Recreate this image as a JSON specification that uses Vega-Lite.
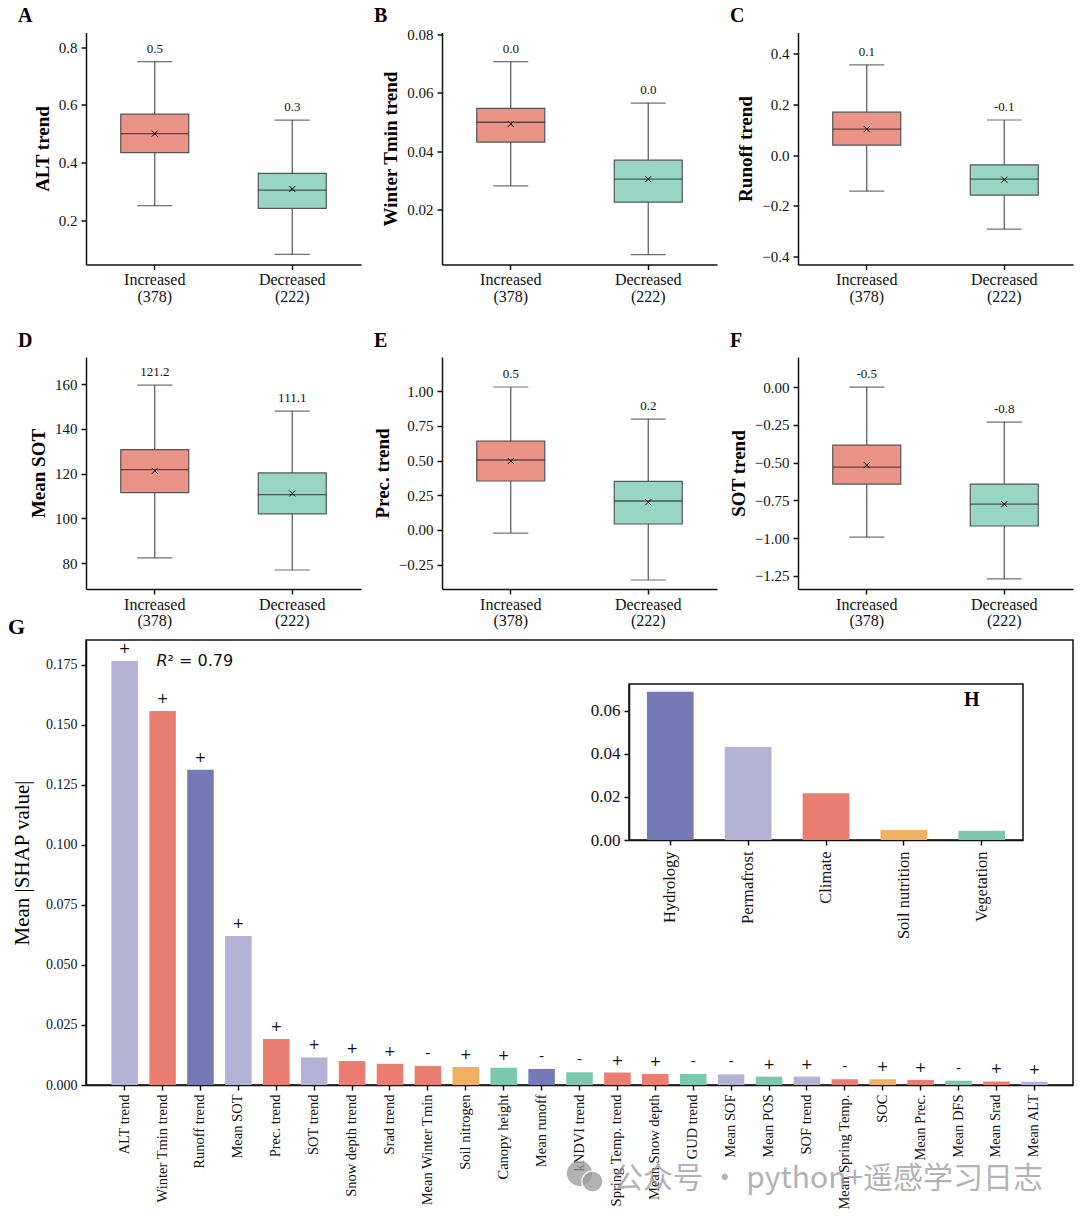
{
  "$schema": "https://vega.github.io/schema/vega-lite/v6.json",
  "background": "white",
  "padding": {"left": 7, "top": 5.5, "right": 0, "bottom": 0},
  "config": {
    "font": "Liberation Serif",
    "view": {"stroke": null},
    "title": {"font": "Liberation Serif", "fontSize": 20, "fontWeight": "bold", "anchor": "start", "frame": "group", "color": "#000", "offset": 6, "dx": -68},
    "axis": {
      "labelFont": "Liberation Serif", "labelFontSize": 15, "labelColor": "#111",
      "titleFont": "Liberation Serif", "titleFontSize": 19, "titleFontWeight": "bold", "titleColor": "#000", "titlePadding": 6,
      "domainColor": "#111", "domainWidth": 1.5, "tickColor": "#111", "tickWidth": 1.5, "tickSize": 5, "labelPadding": 4, "grid": false
    },
    "axisX": {"labelFontSize": 16, "labelAngle": 0, "labelLineHeight": 16.5, "labelPadding": 2, "labelExpr": "split(datum.label, ' ')", "title": null}
  },
  "datasets": {
    "boxes": [
      {"panel": "A", "group": "Increased (378)", "lo": 0.25, "q1": 0.434, "median": 0.5, "q3": 0.568, "hi": 0.75, "mean": 0.5, "label": "0.5"},
      {"panel": "A", "group": "Decreased (222)", "lo": 0.081, "q1": 0.241, "median": 0.304, "q3": 0.362, "hi": 0.547, "mean": 0.308, "label": "0.3"},
      {"panel": "B", "group": "Increased (378)", "lo": 0.0281, "q1": 0.0431, "median": 0.0499, "q3": 0.0547, "hi": 0.0707, "mean": 0.0493, "label": "0.0"},
      {"panel": "B", "group": "Decreased (222)", "lo": 0.0045, "q1": 0.0225, "median": 0.0304, "q3": 0.0369, "hi": 0.0565, "mean": 0.0304, "label": "0.0"},
      {"panel": "C", "group": "Increased (378)", "lo": -0.142, "q1": 0.039, "median": 0.102, "q3": 0.169, "hi": 0.355, "mean": 0.102, "label": "0.1"},
      {"panel": "C", "group": "Decreased (222)", "lo": -0.292, "q1": -0.158, "median": -0.095, "q3": -0.039, "hi": 0.138, "mean": -0.097, "label": "-0.1"},
      {"panel": "D", "group": "Increased (378)", "lo": 82.3, "q1": 111.5, "median": 121.8, "q3": 130.7, "hi": 159.5, "mean": 121.2, "label": "121.2"},
      {"panel": "D", "group": "Decreased (222)", "lo": 76.9, "q1": 102, "median": 110.6, "q3": 120.3, "hi": 147.9, "mean": 111.1, "label": "111.1"},
      {"panel": "E", "group": "Increased (378)", "lo": -0.022, "q1": 0.353, "median": 0.504, "q3": 0.64, "hi": 1.03, "mean": 0.497, "label": "0.5"},
      {"panel": "E", "group": "Decreased (222)", "lo": -0.36, "q1": 0.043, "median": 0.209, "q3": 0.35, "hi": 0.799, "mean": 0.2, "label": "0.2"},
      {"panel": "F", "group": "Increased (378)", "lo": -0.993, "q1": -0.642, "median": -0.53, "q3": -0.384, "hi": 0, "mean": -0.517, "label": "-0.5"},
      {"panel": "F", "group": "Decreased (222)", "lo": -1.27, "q1": -0.92, "median": -0.775, "q3": -0.642, "hi": -0.232, "mean": -0.775, "label": "-0.8"}
    ],
    "shap": [
      {"name": "ALT trend", "value": 0.1767, "cat": "Permafrost", "sign": "+"},
      {"name": "Winter Tmin trend", "value": 0.1558, "cat": "Climate", "sign": "+"},
      {"name": "Runoff trend", "value": 0.1313, "cat": "Hydrology", "sign": "+"},
      {"name": "Mean SOT", "value": 0.0621, "cat": "Permafrost", "sign": "+"},
      {"name": "Prec. trend", "value": 0.0192, "cat": "Climate", "sign": "+"},
      {"name": "SOT trend", "value": 0.0115, "cat": "Permafrost", "sign": "+"},
      {"name": "Snow depth trend", "value": 0.01, "cat": "Climate", "sign": "+"},
      {"name": "Srad trend", "value": 0.0088, "cat": "Climate", "sign": "+"},
      {"name": "Mean Winter Tmin", "value": 0.0079, "cat": "Climate", "sign": "-"},
      {"name": "Soil nitrogen", "value": 0.0075, "cat": "Soil nutrition", "sign": "+"},
      {"name": "Canopy height", "value": 0.0072, "cat": "Vegetation", "sign": "+"},
      {"name": "Mean runoff", "value": 0.0067, "cat": "Hydrology", "sign": "-"},
      {"name": "kNDVI trend", "value": 0.0053, "cat": "Vegetation", "sign": "-"},
      {"name": "Spring Temp. trend", "value": 0.0052, "cat": "Climate", "sign": "+"},
      {"name": "Mean Snow depth", "value": 0.0046, "cat": "Climate", "sign": "+"},
      {"name": "GUD trend", "value": 0.0046, "cat": "Vegetation", "sign": "-"},
      {"name": "Mean SOF", "value": 0.0044, "cat": "Permafrost", "sign": "-"},
      {"name": "Mean POS", "value": 0.0035, "cat": "Vegetation", "sign": "+"},
      {"name": "SOF trend", "value": 0.0035, "cat": "Permafrost", "sign": "+"},
      {"name": "Mean Spring Temp.", "value": 0.0024, "cat": "Climate", "sign": "-"},
      {"name": "SOC", "value": 0.0024, "cat": "Soil nutrition", "sign": "+"},
      {"name": "Mean Prec.", "value": 0.0021, "cat": "Climate", "sign": "+"},
      {"name": "Mean DFS", "value": 0.0018, "cat": "Vegetation", "sign": "-"},
      {"name": "Mean Srad", "value": 0.0015, "cat": "Climate", "sign": "+"},
      {"name": "Mean ALT", "value": 0.0014, "cat": "Permafrost", "sign": "+"}
    ],
    "groups": [
      {"cat": "Hydrology", "value": 0.0688},
      {"cat": "Permafrost", "value": 0.0432},
      {"cat": "Climate", "value": 0.0217},
      {"cat": "Soil nutrition", "value": 0.0046},
      {"cat": "Vegetation", "value": 0.0043}
    ],
    "one": [{"n": 1}]
  },
  "vconcat": [
    {
      "vconcat": [
        {
          "hconcat": [
            {
              "title": {"text": "A", "offset": 7}, "width": 275, "height": 232,
              "data": {"name": "boxes"},
              "transform": [{"filter": "datum.panel == 'A'"}],
              "encoding": {"x": {"field": "group", "type": "nominal", "sort": null, "scale": {"type": "band", "paddingInner": 0, "paddingOuter": 0}}},
              "layer": [
                {"mark": {"type": "rule", "color": "#555", "strokeWidth": 1.2}, "encoding": {
                  "y": {"field": "lo", "type": "quantitative", "title": "ALT trend", "scale": {"domain": [0.046, 0.851], "nice": false, "zero": false}, "axis": {"values": [0.2, 0.4, 0.6, 0.8], "format": ".1f"}},
                  "y2": {"field": "hi"}}},
                {"mark": {"type": "tick", "size": 35, "thickness": 1.2, "color": "#333"}, "encoding": {"y": {"field": "lo", "type": "quantitative"}}},
                {"mark": {"type": "tick", "size": 35, "thickness": 1.2, "color": "#333"}, "encoding": {"y": {"field": "hi", "type": "quantitative"}}},
                {"mark": {"type": "bar", "size": 68, "stroke": "#555", "strokeWidth": 1.2}, "encoding": {
                  "y": {"field": "q1", "type": "quantitative"}, "y2": {"field": "q3"},
                  "color": {"field": "group", "type": "nominal", "legend": null, "scale": {"domain": ["Increased (378)", "Decreased (222)"], "range": ["#EA9488", "#98D5C3"]}}}},
                {"mark": {"type": "tick", "size": 68, "thickness": 1.3, "color": "#222"}, "encoding": {"y": {"field": "median", "type": "quantitative"}}},
                {"mark": {"type": "point", "shape": "M-1,-1L1,1M-1,1L1,-1", "size": 36, "stroke": "#000", "strokeWidth": 1, "opacity": 1}, "encoding": {"y": {"field": "mean", "type": "quantitative"}}},
                {"mark": {"type": "text", "fontSize": 13, "dy": -13, "color": "#111"}, "encoding": {"y": {"field": "hi", "type": "quantitative"}, "text": {"field": "label"}}}
              ]
            },
            {
              "title": {"text": "B", "offset": 2}, "width": 275, "height": 232,
              "data": {"name": "boxes"},
              "transform": [{"filter": "datum.panel == 'B'"}],
              "encoding": {"x": {"field": "group", "type": "nominal", "sort": null, "scale": {"type": "band", "paddingInner": 0, "paddingOuter": 0}}},
              "layer": [
                {"mark": {"type": "rule", "color": "#555", "strokeWidth": 1.2}, "encoding": {
                  "y": {"field": "lo", "type": "quantitative", "title": "Winter Tmin trend", "scale": {"domain": [0.0011, 0.0807], "nice": false, "zero": false}, "axis": {"values": [0.02, 0.04, 0.06, 0.08], "format": ".2f"}},
                  "y2": {"field": "hi"}}},
                {"mark": {"type": "tick", "size": 35, "thickness": 1.2, "color": "#333"}, "encoding": {"y": {"field": "lo", "type": "quantitative"}}},
                {"mark": {"type": "tick", "size": 35, "thickness": 1.2, "color": "#333"}, "encoding": {"y": {"field": "hi", "type": "quantitative"}}},
                {"mark": {"type": "bar", "size": 68, "stroke": "#555", "strokeWidth": 1.2}, "encoding": {
                  "y": {"field": "q1", "type": "quantitative"}, "y2": {"field": "q3"},
                  "color": {"field": "group", "type": "nominal", "legend": null, "scale": {"domain": ["Increased (378)", "Decreased (222)"], "range": ["#EA9488", "#98D5C3"]}}}},
                {"mark": {"type": "tick", "size": 68, "thickness": 1.3, "color": "#222"}, "encoding": {"y": {"field": "median", "type": "quantitative"}}},
                {"mark": {"type": "point", "shape": "M-1,-1L1,1M-1,1L1,-1", "size": 36, "stroke": "#000", "strokeWidth": 1, "opacity": 1}, "encoding": {"y": {"field": "mean", "type": "quantitative"}}},
                {"mark": {"type": "text", "fontSize": 13, "dy": -13, "color": "#111"}, "encoding": {"y": {"field": "hi", "type": "quantitative"}, "text": {"field": "label"}}}
              ]
            },
            {
              "title": {"text": "C", "offset": 7}, "width": 275, "height": 232,
              "data": {"name": "boxes"},
              "transform": [{"filter": "datum.panel == 'C'"}],
              "encoding": {"x": {"field": "group", "type": "nominal", "sort": null, "scale": {"type": "band", "paddingInner": 0, "paddingOuter": 0}}},
              "layer": [
                {"mark": {"type": "rule", "color": "#555", "strokeWidth": 1.2}, "encoding": {
                  "y": {"field": "lo", "type": "quantitative", "title": "Runoff trend", "scale": {"domain": [-0.4315, 0.483], "nice": false, "zero": false}, "axis": {"values": [-0.4, -0.2, 0, 0.2, 0.4], "format": ".1f"}},
                  "y2": {"field": "hi"}}},
                {"mark": {"type": "tick", "size": 35, "thickness": 1.2, "color": "#333"}, "encoding": {"y": {"field": "lo", "type": "quantitative"}}},
                {"mark": {"type": "tick", "size": 35, "thickness": 1.2, "color": "#333"}, "encoding": {"y": {"field": "hi", "type": "quantitative"}}},
                {"mark": {"type": "bar", "size": 68, "stroke": "#555", "strokeWidth": 1.2}, "encoding": {
                  "y": {"field": "q1", "type": "quantitative"}, "y2": {"field": "q3"},
                  "color": {"field": "group", "type": "nominal", "legend": null, "scale": {"domain": ["Increased (378)", "Decreased (222)"], "range": ["#EA9488", "#98D5C3"]}}}},
                {"mark": {"type": "tick", "size": 68, "thickness": 1.3, "color": "#222"}, "encoding": {"y": {"field": "median", "type": "quantitative"}}},
                {"mark": {"type": "point", "shape": "M-1,-1L1,1M-1,1L1,-1", "size": 36, "stroke": "#000", "strokeWidth": 1, "opacity": 1}, "encoding": {"y": {"field": "mean", "type": "quantitative"}}},
                {"mark": {"type": "text", "fontSize": 13, "dy": -13, "color": "#111"}, "encoding": {"y": {"field": "hi", "type": "quantitative"}, "text": {"field": "label"}}}
              ]
            }
          ],
          "spacing": 81, "bounds": "flush"
        },
        {
          "hconcat": [
            {
              "title": "D", "width": 275, "height": 232,
              "data": {"name": "boxes"},
              "transform": [{"filter": "datum.panel == 'D'"}],
              "encoding": {"x": {"field": "group", "type": "nominal", "sort": null, "scale": {"type": "band", "paddingInner": 0, "paddingOuter": 0}}},
              "layer": [
                {"mark": {"type": "rule", "color": "#555", "strokeWidth": 1.2}, "encoding": {
                  "y": {"field": "lo", "type": "quantitative", "title": "Mean SOT", "scale": {"domain": [68.4, 172.1], "nice": false, "zero": false}, "axis": {"values": [80, 100, 120, 140, 160], "format": "d"}},
                  "y2": {"field": "hi"}}},
                {"mark": {"type": "tick", "size": 35, "thickness": 1.2, "color": "#333"}, "encoding": {"y": {"field": "lo", "type": "quantitative"}}},
                {"mark": {"type": "tick", "size": 35, "thickness": 1.2, "color": "#333"}, "encoding": {"y": {"field": "hi", "type": "quantitative"}}},
                {"mark": {"type": "bar", "size": 68, "stroke": "#555", "strokeWidth": 1.2}, "encoding": {
                  "y": {"field": "q1", "type": "quantitative"}, "y2": {"field": "q3"},
                  "color": {"field": "group", "type": "nominal", "legend": null, "scale": {"domain": ["Increased (378)", "Decreased (222)"], "range": ["#EA9488", "#98D5C3"]}}}},
                {"mark": {"type": "tick", "size": 68, "thickness": 1.3, "color": "#222"}, "encoding": {"y": {"field": "median", "type": "quantitative"}}},
                {"mark": {"type": "point", "shape": "M-1,-1L1,1M-1,1L1,-1", "size": 36, "stroke": "#000", "strokeWidth": 1, "opacity": 1}, "encoding": {"y": {"field": "mean", "type": "quantitative"}}},
                {"mark": {"type": "text", "fontSize": 13, "dy": -13, "color": "#111"}, "encoding": {"y": {"field": "hi", "type": "quantitative"}, "text": {"field": "label"}}}
              ]
            },
            {
              "title": "E", "width": 275, "height": 232,
              "data": {"name": "boxes"},
              "transform": [{"filter": "datum.panel == 'E'"}],
              "encoding": {"x": {"field": "group", "type": "nominal", "sort": null, "scale": {"type": "band", "paddingInner": 0, "paddingOuter": 0}}},
              "layer": [
                {"mark": {"type": "rule", "color": "#555", "strokeWidth": 1.2}, "encoding": {
                  "y": {"field": "lo", "type": "quantitative", "title": "Prec. trend", "scale": {"domain": [-0.425, 1.246], "nice": false, "zero": false}, "axis": {"values": [-0.25, 0, 0.25, 0.5, 0.75, 1], "format": ".2f"}},
                  "y2": {"field": "hi"}}},
                {"mark": {"type": "tick", "size": 35, "thickness": 1.2, "color": "#333"}, "encoding": {"y": {"field": "lo", "type": "quantitative"}}},
                {"mark": {"type": "tick", "size": 35, "thickness": 1.2, "color": "#333"}, "encoding": {"y": {"field": "hi", "type": "quantitative"}}},
                {"mark": {"type": "bar", "size": 68, "stroke": "#555", "strokeWidth": 1.2}, "encoding": {
                  "y": {"field": "q1", "type": "quantitative"}, "y2": {"field": "q3"},
                  "color": {"field": "group", "type": "nominal", "legend": null, "scale": {"domain": ["Increased (378)", "Decreased (222)"], "range": ["#EA9488", "#98D5C3"]}}}},
                {"mark": {"type": "tick", "size": 68, "thickness": 1.3, "color": "#222"}, "encoding": {"y": {"field": "median", "type": "quantitative"}}},
                {"mark": {"type": "point", "shape": "M-1,-1L1,1M-1,1L1,-1", "size": 36, "stroke": "#000", "strokeWidth": 1, "opacity": 1}, "encoding": {"y": {"field": "mean", "type": "quantitative"}}},
                {"mark": {"type": "text", "fontSize": 13, "dy": -13, "color": "#111"}, "encoding": {"y": {"field": "hi", "type": "quantitative"}, "text": {"field": "label"}}}
              ]
            },
            {
              "title": "F", "width": 275, "height": 232,
              "data": {"name": "boxes"},
              "transform": [{"filter": "datum.panel == 'F'"}],
              "encoding": {"x": {"field": "group", "type": "nominal", "sort": null, "scale": {"type": "band", "paddingInner": 0, "paddingOuter": 0}}},
              "layer": [
                {"mark": {"type": "rule", "color": "#555", "strokeWidth": 1.2}, "encoding": {
                  "y": {"field": "lo", "type": "quantitative", "title": "SOT trend", "scale": {"domain": [-1.337, 0.199], "nice": false, "zero": false}, "axis": {"values": [-1.25, -1, -0.75, -0.5, -0.25, 0], "format": ".2f"}},
                  "y2": {"field": "hi"}}},
                {"mark": {"type": "tick", "size": 35, "thickness": 1.2, "color": "#333"}, "encoding": {"y": {"field": "lo", "type": "quantitative"}}},
                {"mark": {"type": "tick", "size": 35, "thickness": 1.2, "color": "#333"}, "encoding": {"y": {"field": "hi", "type": "quantitative"}}},
                {"mark": {"type": "bar", "size": 68, "stroke": "#555", "strokeWidth": 1.2}, "encoding": {
                  "y": {"field": "q1", "type": "quantitative"}, "y2": {"field": "q3"},
                  "color": {"field": "group", "type": "nominal", "legend": null, "scale": {"domain": ["Increased (378)", "Decreased (222)"], "range": ["#EA9488", "#98D5C3"]}}}},
                {"mark": {"type": "tick", "size": 68, "thickness": 1.3, "color": "#222"}, "encoding": {"y": {"field": "median", "type": "quantitative"}}},
                {"mark": {"type": "point", "shape": "M-1,-1L1,1M-1,1L1,-1", "size": 36, "stroke": "#000", "strokeWidth": 1, "opacity": 1}, "encoding": {"y": {"field": "mean", "type": "quantitative"}}},
                {"mark": {"type": "text", "fontSize": 13, "dy": -13, "color": "#111"}, "encoding": {"y": {"field": "hi", "type": "quantitative"}, "text": {"field": "label"}}}
              ]
            }
          ],
          "spacing": 81, "bounds": "flush"
        }
      ],
      "spacing": 26.5
    },
    {
      "title": {"text": "G", "fontSize": 22, "dx": -78, "offset": 1},
      "width": 987, "height": 445,
      "view": {"stroke": "#111", "strokeWidth": 1.5},
      "layer": [
        {
          "layer": [
            {
              "data": {"name": "shap"},
              "mark": {"type": "bar"},
              "encoding": {
                "x": {"field": "name", "type": "nominal", "sort": null, "title": null,
                  "scale": {"type": "band", "paddingInner": 0.3, "paddingOuter": 0.67},
                  "axis": {"labelAngle": -90, "labelAlign": "right", "labelBaseline": "middle", "labelFontSize": 14.5, "labelPadding": 4, "labelExpr": "datum.label", "labelOverlap": false}},
                "y": {"field": "value", "type": "quantitative", "title": "Mean |SHAP value|",
                  "scale": {"domain": [0, 0.1854], "nice": false},
                  "axis": {"values": [0, 0.025, 0.05, 0.075, 0.1, 0.125, 0.15, 0.175], "format": ".3f", "labelFontSize": 14, "titleFontSize": 21, "titleFontWeight": "normal", "titlePadding": 13}},
                "color": {"field": "cat", "type": "nominal", "legend": null,
                  "scale": {"domain": ["Hydrology", "Permafrost", "Climate", "Soil nutrition", "Vegetation"], "range": ["#7579B5", "#B4B3D5", "#E87D70", "#EFB063", "#7CC8AE"]}}
              }
            },
            {
              "data": {"name": "shap"},
              "mark": {"type": "text", "font": "DejaVu Sans", "fontSize": 14, "dy": -12, "color": "#111"},
              "encoding": {
                "x": {"field": "name", "type": "nominal", "sort": null},
                "y": {"field": "value", "type": "quantitative"},
                "text": {"field": "sign"}
              }
            },
            {
              "data": {"name": "one"},
              "mark": {"type": "text", "font": "DejaVu Sans", "fontSize": 16, "fontStyle": "italic", "align": "left", "dx": -44, "text": "R", "color": "#111"},
              "encoding": {"x": {"datum": "Runoff trend"}, "y": {"datum": 0.1767}}
            },
            {
              "data": {"name": "one"},
              "mark": {"type": "text", "font": "DejaVu Sans", "fontSize": 16, "align": "left", "dx": -33, "text": "² = 0.79", "color": "#111"},
              "encoding": {"x": {"datum": "Runoff trend"}, "y": {"datum": 0.1767}}
            },
            {
              "data": {"name": "one"},
              "mark": {"type": "point", "shape": "circle", "filled": true, "size": 640, "color": "#999", "opacity": 0.75},
              "encoding": {"x": {"datum": "kNDVI trend"}, "y": {"datum": -0.0368}}
            },
            {
              "data": {"name": "one"},
              "mark": {"type": "point", "shape": "circle", "filled": true, "size": 450, "color": "#999", "opacity": 0.75, "xOffset": 13, "stroke": "white", "strokeWidth": 1.5},
              "encoding": {"x": {"datum": "kNDVI trend"}, "y": {"datum": -0.0402}}
            },
            {
              "data": {"name": "one"},
              "mark": {"type": "text", "font": "Noto Sans CJK SC", "fontSize": 30, "dx": 59, "color": "#999", "opacity": 0.75, "text": "公众号 · python+遥感学习日志"},
              "encoding": {"x": {"datum": "Mean POS"}, "y": {"datum": -0.0392}}
            }
          ]
        },
        {
          "data": {"name": "one"},
          "mark": {"type": "rect", "fill": "transparent", "stroke": "#111", "strokeWidth": 1.5},
          "encoding": {
            "x": {"datum": 0, "type": "quantitative", "scale": {"domain": [0, 1], "range": [543, 937], "nice": false, "zero": false}, "axis": null},
            "x2": {"datum": 1},
            "y": {"datum": 0, "type": "quantitative", "scale": {"domain": [0, 1], "range": [200, 44], "nice": false, "zero": false}, "axis": null},
            "y2": {"datum": 1}
          }
        },
        {
          "layer": [
            {
              "data": {"name": "groups"},
              "mark": {"type": "bar"},
              "encoding": {
                "x": {"field": "cat", "type": "nominal", "sort": null, "title": null,
                  "scale": {"type": "band", "range": [543, 937], "paddingInner": 0.4, "paddingOuter": 0.23},
                  "axis": {"orient": "bottom", "offset": -245, "labelAngle": -90, "labelAlign": "right", "labelBaseline": "middle", "labelFontSize": 16.5, "labelPadding": 6, "labelExpr": "datum.label", "labelOverlap": false}},
                "y": {"field": "value", "type": "quantitative", "title": null,
                  "scale": {"domain": [0, 0.0724], "range": [200, 44], "nice": false},
                  "axis": {"orient": "left", "offset": -543, "values": [0, 0.02, 0.04, 0.06], "format": ".2f", "labelFontSize": 17}},
                "color": {"field": "cat", "type": "nominal", "legend": null,
                  "scale": {"domain": ["Hydrology", "Permafrost", "Climate", "Soil nutrition", "Vegetation"], "range": ["#7579B5", "#B4B3D5", "#E87D70", "#EFB063", "#7CC8AE"]}}
              }
            },
            {
              "data": {"name": "one"},
              "mark": {"type": "text", "fontSize": 20, "fontWeight": "bold", "dx": -10, "text": "H", "color": "#000"},
              "encoding": {"x": {"datum": "Vegetation"}, "y": {"datum": 0.065}}
            }
          ]
        }
      ],
      "resolve": {"scale": {"x": "independent", "y": "independent", "color": "independent"}, "axis": {"x": "independent", "y": "independent"}}
    }
  ],
  "spacing": -13.5
}
